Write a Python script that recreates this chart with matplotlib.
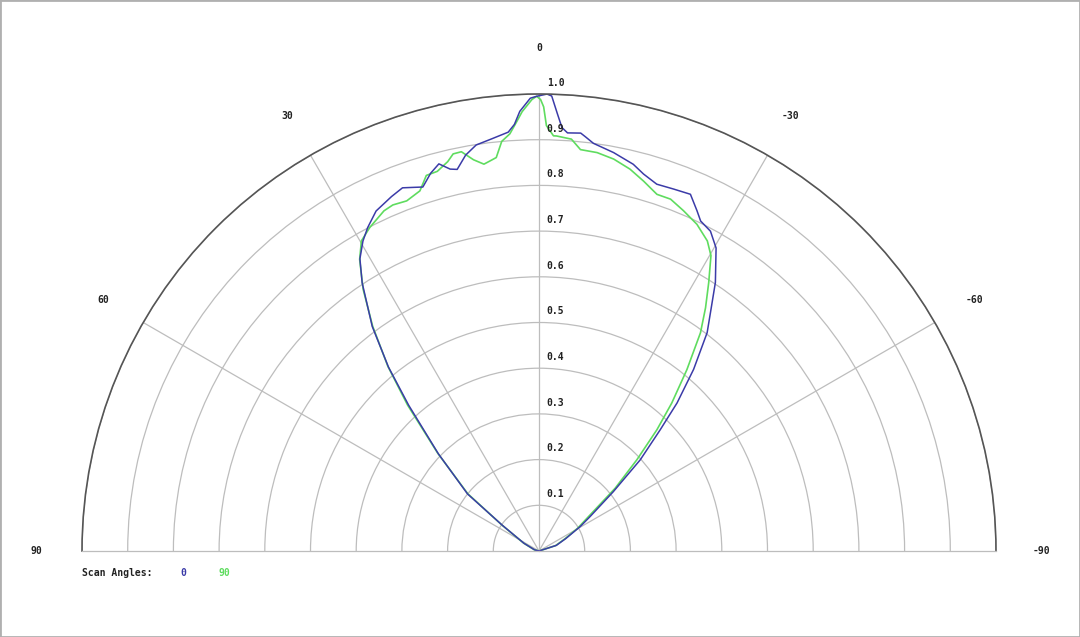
import numpy as np
import matplotlib
matplotlib.use("Agg")
import matplotlib.pyplot as plt
from matplotlib.patches import Rectangle

# scan angle 0 (blue): angle in degrees, normalised intensity
scan0_deg = [90, 75, 62.8, 55.0, 51.4, 46.0, 41.8, 39.3, 36.6, 33.4, 31.5, 29.6,
             27.9, 25.6, 22.6, 20.6, 19.1, 17.7, 16.0, 14.5, 13.1, 12.1, 10.5,
             8.8, 6.5, 4.2, 3.3, 2.5, 1.1, 0.3, -1.0, -1.6, -2.4, -3.1, -3.9,
             -5.7, -6.4, -7.6, -10.6, -13.7, -15.5, -17.8, -20.4, -23.0, -24.9,
             -26.1, -28.2, -30.3, -33.3, -35.4, -37.6, -40.4, -43.0, -45.0,
             -48.0, -51.4, -56.0, -59.3, -65.0, -72.0, -90]
scan0_r = [0, 0.010, 0.037, 0.097, 0.200, 0.306, 0.428, 0.520, 0.612, 0.703,
           0.750, 0.780, 0.801, 0.825, 0.840, 0.849, 0.842, 0.836, 0.860, 0.875,
           0.858, 0.854, 0.881, 0.899, 0.908, 0.919, 0.935, 0.963, 0.991, 0.995,
           1.000, 0.996, 0.958, 0.928, 0.917, 0.919, 0.912, 0.900, 0.887, 0.871,
           0.856, 0.843, 0.845, 0.848, 0.821, 0.804, 0.794, 0.768, 0.703, 0.650,
           0.603, 0.522, 0.443, 0.375, 0.298, 0.208, 0.135, 0.105, 0.065, 0.040, 0]

# scan angle 90 (green)
scan90_deg = [90, 75, 62.8, 55.0, 51.2, 46.0, 42.0, 39.3, 36.5, 33.9, 31.6, 29.8,
              27.6, 24.5, 22.9, 20.7, 18.3, 16.7, 15.0, 13.2, 12.2, 11.0, 9.5,
              8.1, 7.2, 6.2, 5.2, 4.0, 3.0, 2.2, 0.9, 0.3, -0.2, -0.6, -1.0,
              -2.0, -2.4, -4.5, -5.9, -8.3, -10.8, -13.4, -15.8, -18.3, -20.5,
              -23.0, -25.8, -28.5, -30.2, -32.3, -34.4, -36.5, -39.2, -41.9,
              -44.2, -47.0, -50.5, -55.2, -59.5, -65.0, -72.0, -90]
scan90_r = [0, 0.011, 0.038, 0.099, 0.200, 0.308, 0.430, 0.522, 0.612, 0.690,
            0.749, 0.782, 0.799, 0.818, 0.822, 0.819, 0.830, 0.858, 0.860, 0.875,
            0.889, 0.890, 0.868, 0.855, 0.860, 0.866, 0.900, 0.915, 0.940, 0.962,
            0.988, 0.995, 0.988, 0.972, 0.931, 0.909, 0.909, 0.904, 0.883, 0.881,
            0.873, 0.859, 0.841, 0.822, 0.822, 0.809, 0.794, 0.772, 0.748, 0.695,
            0.645, 0.594, 0.512, 0.435, 0.370, 0.293, 0.216, 0.132, 0.098, 0.062,
            0.038, 0]

r_ticks = [0.1, 0.2, 0.3, 0.4, 0.5, 0.6, 0.7, 0.8, 0.9, 1.0]
theta_ticks = [90, 60, 30, 0, -30, -60, -90]

blue = "#3b3ba8"
green = "#5fdc5f"
grid_col = "#bdbdbd"
mono = dict(family="DejaVu Sans Mono", fontweight="bold", fontsize=7, color="#222222")

W, H = 1080, 637
R = 457          # radius of the 1.0 ring, px
cx, cy = 539, 86  # pole position, px from bottom-left

fig = plt.figure(figsize=(W / 100, H / 100), dpi=100)
# polar wedge sits in a square box; the half disc uses its middle band
ax = fig.add_axes([(cx - R) / W, (cy - R / 2) / H, 2 * R / W, 2 * R / H],
                  projection="polar")
ax.set_theta_zero_location("N")
ax.set_theta_direction(1)
ax.set_thetamin(-90)
ax.set_thetamax(90)
ax.set_ylim(0, 1.0)
ax.set_aspect("auto")

ax.set_rgrids(r_ticks, labels=[""] * len(r_ticks))
ax.set_thetagrids([-60, -30, 0, 30, 60], labels=[""] * 5)
ax.grid(True, color=grid_col, linewidth=0.9)
ax.spines["polar"].set_color("#555555")
ax.spines["polar"].set_linewidth(1.2)
for s in ("start", "end"):
    ax.spines[s].set_color(grid_col)
    ax.spines[s].set_linewidth(0.9)
ax.spines["inner"].set_visible(False)
ax.tick_params(length=0)

ax.plot(np.deg2rad(scan90_deg), scan90_r, color=green, linewidth=1.2)
ax.plot(np.deg2rad(scan0_deg), scan0_r, color=blue, linewidth=1.1)

# angle labels around the rim
for a in theta_ticks:
    ax.text(np.deg2rad(a), 1.10, str(a), ha="center", va="center", clip_on=False, **mono)

# radial labels along the 0 spoke
for r in r_ticks:
    ax.annotate(f"{r:.1f}", xy=(0, r), xytext=(5.5, 8), textcoords="offset points",
                ha="left", va="center", **mono)

# legend row
fig.text(82 / W, 1 - 573 / H, "Scan Angles:", ha="left", va="center", **mono)
fig.text(183 / W, 1 - 573 / H, "0", ha="center", va="center",
         **{**mono, "color": blue})
fig.text(224 / W, 1 - 573 / H, "90", ha="center", va="center",
         **{**mono, "color": green})

fig.patches.append(Rectangle((0, 0), 1, 1, transform=fig.transFigure, fill=False,
                             edgecolor="#b0b0b0", linewidth=2))

fig.savefig("out.png", dpi=100, facecolor="white")
